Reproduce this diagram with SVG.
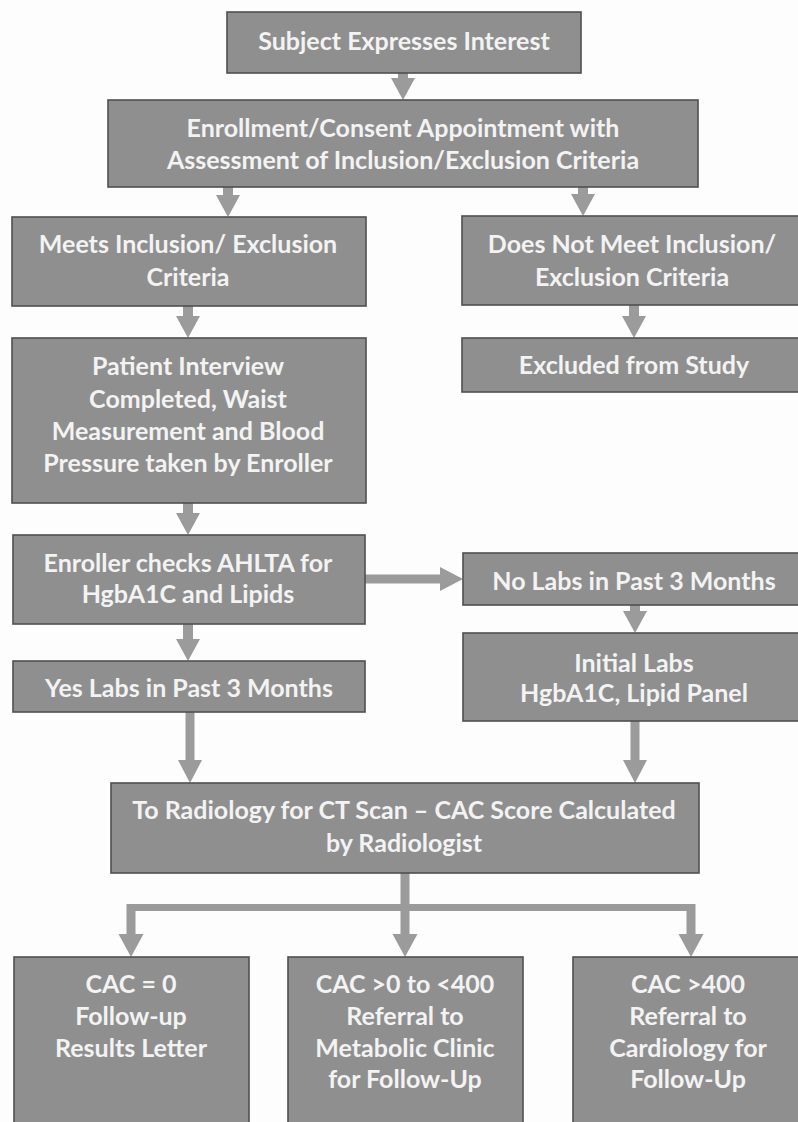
<svg xmlns="http://www.w3.org/2000/svg" width="798" height="1122" viewBox="0 0 798 1122">
<style>
.box{fill:#8f8f8f;stroke:#4f4f4f;stroke-width:1.6}
.t{font-family:Lato,"Open Sans","Liberation Sans",sans-serif;font-weight:bold;font-size:25px;fill:#f3f3f3;text-anchor:middle}
.ar{fill:#9b9b9b;stroke:none}
</style>
<rect x="0" y="0" width="798" height="1122" fill="#fdfdfd"/>
<g id="connectors">
<polygon class="ar" points="398,73 408,73 408,78 415,78 403,100 391,78 398,78"/>
<polygon class="ar" points="223,187 233,187 233,195 240,195 228,217 216,195 223,195"/>
<polygon class="ar" points="578,187 588,187 588,194 595,194 583,216 571,194 578,194"/>
<polygon class="ar" points="183,306 193,306 193,316 200,316 188,338 176,316 183,316"/>
<polygon class="ar" points="629,305 639,305 639,316 646,316 634,338 622,316 629,316"/>
<polygon class="ar" points="183,503 193,503 193,513 200,513 188,535 176,513 183,513"/>
<polygon class="ar" points="183,624 193,624 193,639 200,639 188,661 176,639 183,639"/>
<polygon class="ar" points="365,574.5 440,574.5 440,567 463,579 440,591 440,583.5 365,583.5"/>
<polygon class="ar" points="630,605 640,605 640,611 647,611 635,633 623,611 630,611"/>
<polygon class="ar" points="185.5,712 194.5,712 194.5,760 202,760 190,783 178,760 185.5,760"/>
<polygon class="ar" points="630.5,721 639.5,721 639.5,760 647,760 635,783 623,760 630.5,760"/>
<rect class="ar" x="400.5" y="873" width="9" height="38"/>
<rect class="ar" x="127" y="904" width="568" height="7"/>
<rect class="ar" x="126.5" y="904" width="9" height="30"/>
<polygon class="ar" points="118.5,934 143.5,934 131,957"/>
<rect class="ar" x="400.5" y="904" width="9" height="30"/>
<polygon class="ar" points="392.5,934 417.5,934 405,957"/>
<rect class="ar" x="686.5" y="904" width="9" height="30"/>
<polygon class="ar" points="678.5,934 703.5,934 691,957"/>
</g>
<g id="n-subject">
<rect class="box" x="227" y="12" width="354" height="61"/>
<text class="t" x="404" y="50">Subject Expresses Interest</text>
</g>
<g id="n-enrollment">
<rect class="box" x="108" y="100" width="590" height="87"/>
<text class="t" x="403" y="137">Enrollment/Consent Appointment with</text>
<text class="t" x="403" y="169">Assessment of Inclusion/Exclusion Criteria</text>
</g>
<g id="n-meets">
<rect class="box" x="12" y="217" width="354" height="89"/>
<text class="t" x="188" y="253">Meets Inclusion/ Exclusion</text>
<text class="t" x="188" y="286">Criteria</text>
</g>
<g id="n-doesnot">
<rect class="box" x="462" y="216" width="341" height="89"/>
<text class="t" x="632" y="253">Does Not Meet Inclusion/</text>
<text class="t" x="632" y="286">Exclusion Criteria</text>
</g>
<g id="n-patient">
<rect class="box" x="12" y="338" width="354" height="165"/>
<text class="t" x="188" y="375">Patient Interview</text>
<text class="t" x="188" y="408">Completed, Waist</text>
<text class="t" x="188" y="440">Measurement and Blood</text>
<text class="t" x="188" y="472">Pressure taken by Enroller</text>
</g>
<g id="n-excluded">
<rect class="box" x="462" y="338" width="341" height="54"/>
<text class="t" x="634" y="374">Excluded from Study</text>
</g>
<g id="n-enroller">
<rect class="box" x="13" y="535" width="352" height="89"/>
<text class="t" x="188" y="572">Enroller checks AHLTA for</text>
<text class="t" x="188" y="603">HgbA1C and Lipids</text>
</g>
<g id="n-nolabs">
<rect class="box" x="463" y="553" width="340" height="52"/>
<text class="t" x="634" y="590">No Labs in Past 3 Months</text>
</g>
<g id="n-initial">
<rect class="box" x="463" y="633" width="340" height="88"/>
<text class="t" x="634" y="672">Initial Labs</text>
<text class="t" x="634" y="702">HgbA1C, Lipid Panel</text>
</g>
<g id="n-yes">
<rect class="box" x="13" y="661" width="352" height="51"/>
<text class="t" x="189" y="697">Yes Labs in Past 3 Months</text>
</g>
<g id="n-ct">
<rect class="box" x="111" y="783" width="588" height="90"/>
<text class="t" x="404" y="819">To Radiology for CT Scan – CAC Score Calculated</text>
<text class="t" x="404" y="852">by Radiologist</text>
</g>
<g id="n-cac0">
<rect class="box" x="14" y="957" width="235" height="175"/>
<text class="t" x="131" y="993">CAC = 0</text>
<text class="t" x="131" y="1025">Follow-up</text>
<text class="t" x="131" y="1057">Results Letter</text>
</g>
<g id="n-cacmid">
<rect class="box" x="288" y="957" width="235" height="175"/>
<text class="t" x="405" y="993">CAC &gt;0 to &lt;400</text>
<text class="t" x="405" y="1025">Referral to</text>
<text class="t" x="405" y="1057">Metabolic Clinic</text>
<text class="t" x="405" y="1088">for Follow-Up</text>
</g>
<g id="n-cachigh">
<rect class="box" x="573" y="957" width="230" height="175"/>
<text class="t" x="688" y="993">CAC &gt;400</text>
<text class="t" x="688" y="1025">Referral to</text>
<text class="t" x="688" y="1057">Cardiology for</text>
<text class="t" x="688" y="1088">Follow-Up</text>
</g>
</svg>
